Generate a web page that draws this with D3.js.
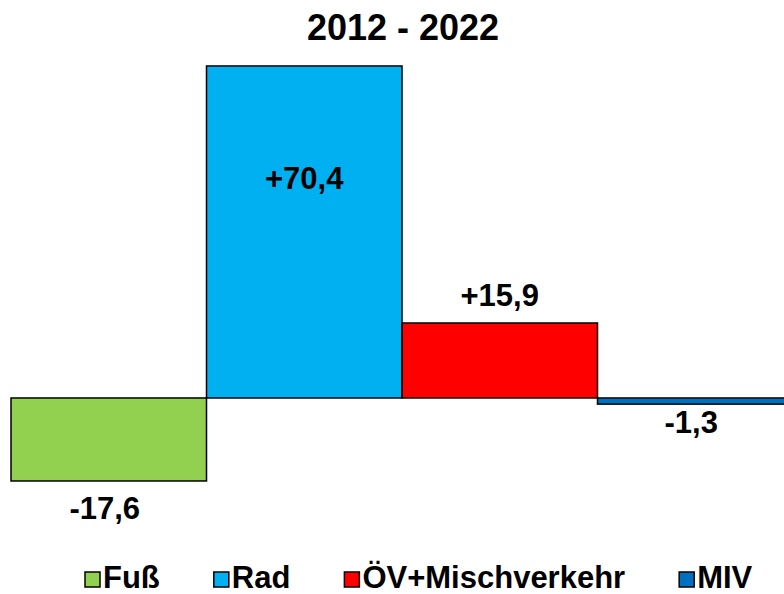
<!DOCTYPE html>
<html>
<head>
<meta charset="utf-8">
<script src="https://cdn.jsdelivr.net/npm/d3@7"></script>
<style>
  body { margin: 0; background: #fff; }
  svg { display: block; }
  text { font-family: "Liberation Sans", Arial, Helvetica, sans-serif; font-weight: bold; fill: #000; }
</style>
</head>
<body>
<div id="chart"></div>
<script>
const title = '2012 - 2022';
const categories = ['Fuß', 'Rad', 'ÖV+Mischverkehr', 'MIV'];
const values = [-17.6, 70.4, 15.9, -1.3];
const labels = ['-17,6', '+70,4', '+15,9', '-1,3'];
const colors = ['#92D050', '#00B0F0', '#FF0000', '#0070C0'];

const width = 784;
const height = 594;

const data = categories.map((c, i) => ({ cat: c, value: values[i], label: labels[i], color: colors[i] }));

const svg = d3.select('#chart')
  .append('svg')
  .attr('width', width)
  .attr('height', height);

const x = d3.scaleBand()
  .domain(categories)
  .range([11, 793])
  .padding(0);

const y = d3.scaleLinear()
  .domain([-20, 80])
  .range([492.3, 20.7]);

// title
svg.append('text')
  .attr('x', 403)
  .attr('y', 40)
  .attr('text-anchor', 'middle')
  .style('font-size', '36px')
  .text(title);

// bars
svg.selectAll('rect.bar')
  .data(data)
  .enter()
  .append('rect')
  .attr('class', 'bar')
  .attr('x', d => x(d.cat))
  .attr('y', d => Math.min(y(d.value), y(0)))
  .attr('width', x.bandwidth())
  .attr('height', d => Math.abs(y(d.value) - y(0)))
  .attr('fill', d => d.color)
  .attr('stroke', '#000')
  .attr('stroke-width', 1.5);

// value labels
function labelY(d) {
  const h = Math.abs(y(d.value) - y(0));
  if (d.value >= 0) {
    return h > 100 ? y(d.value) + h * 0.37 : y(d.value) - 17;
  }
  return y(d.value) + (h > 40 ? 38 : 29);
}

svg.selectAll('text.val')
  .data(data)
  .enter()
  .append('text')
  .attr('class', 'val')
  .attr('text-anchor', 'middle')
  .style('font-size', '31px')
  .attr('x', d => x(d.cat) + x.bandwidth() / 2 + (d.value < 0 ? -4 : 0))
  .attr('y', d => labelY(d))
  .text(d => d.label);

// legend
const legend = svg.append('g').attr('class', 'legend');
let lx = 85;
const ly = 588;
data.forEach(d => {
  legend.append('rect')
    .attr('x', lx)
    .attr('y', ly - 16)
    .attr('width', 15)
    .attr('height', 15)
    .attr('fill', d.color)
    .attr('stroke', '#000')
    .attr('stroke-width', 1.5);
  const t = legend.append('text')
    .attr('x', lx + 18)
    .attr('y', ly)
    .style('font-size', '31px')
    .text(d.cat);
  lx += 18 + t.node().getComputedTextLength() + 54;
});
</script>
</body>
</html>
